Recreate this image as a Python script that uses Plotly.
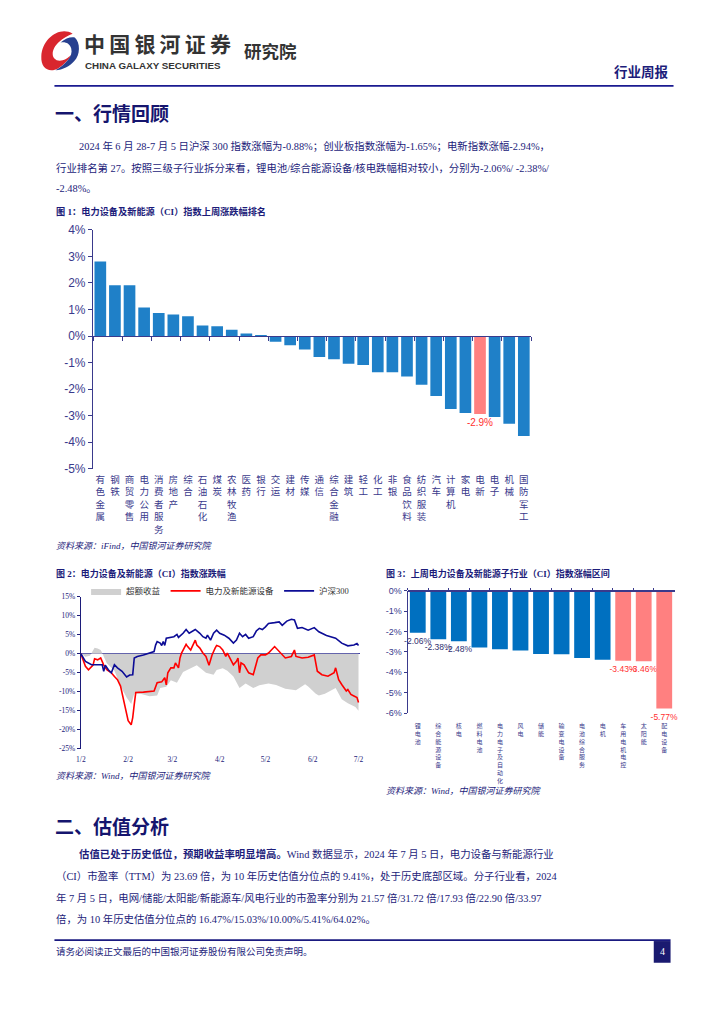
import plotly.graph_objects as go

W, H = 724, 1024


def px(x):
    return x / W


def py(y):
    return 1 - y / H


# ---------------- data ----------------
# Figure 1: industry weekly change (%)
cats1 = ['有色金属', '钢铁', '商贸零售', '电力公用', '消费者服务', '房地产', '综合', '石油石化', '煤炭',
         '农林牧渔', '医药', '银行', '交运', '建材', '传媒', '通信', '综合金融', '建筑', '轻工', '化工',
         '非银', '食品饮料', '纺织服装', '汽车', '计算机', '家电', '电新', '电子', '机械', '国防军工']
vals1 = [2.81, 1.91, 1.91, 1.07, 0.87, 0.81, 0.74, 0.40, 0.37, 0.24, 0.09, 0.01, -0.22, -0.35,
         -0.51, -0.79, -0.88, -1.05, -1.09, -1.37, -1.37, -1.53, -1.84, -2.26, -2.75, -2.90,
         -2.94, -3.05, -3.31, -3.77]
highlight1 = '电新'
ticks1 = [4, 3, 2, 1, 0, -1, -2, -3, -4, -5]
ticktext1 = ['4%', '3%', '2%', '1%', '0%', '-1%', '-2%', '-3%', '-4%', '-5%']

# Figure 3: sub-industry weekly change (%)
cats3 = ['锂电池', '综合能源设备', '核电', '燃料电池', '电力电子及自动化', '风电', '储能', '输变电设备',
         '电池综合服务', '电机', '车用电机电控', '太阳能', '配电设备']
vals3 = [-2.06, -2.38, -2.48, -2.79, -2.87, -2.93, -3.10, -3.12, -3.30, -3.38, -3.43, -3.46, -5.77]
highlight3 = ['车用电机电控', '太阳能', '配电设备']
labelled3 = ['锂电池', '综合能源设备', '核电', '车用电机电控', '太阳能', '配电设备']
ticks3 = [0, -1, -2, -3, -4, -5, -6]
ticktext3 = ['0%', '-1%', '-2%', '-3%', '-4%', '-5%', '-6%']

# Figure 2: cumulative change since 2024-01-02 (%)
hs_dates = ['2024-01-02', '2024-01-05', '2024-01-09', '2024-01-13', '2024-01-16', '2024-01-17',
            '2024-01-18', '2024-01-20', '2024-01-22', '2024-01-24', '2024-01-26', '2024-01-29',
            '2024-01-31', '2024-02-01', '2024-02-03', '2024-02-05', '2024-02-06', '2024-02-08',
            '2024-02-12', '2024-02-17', '2024-02-19', '2024-02-20', '2024-02-21', '2024-02-23',
            '2024-02-24', '2024-02-25', '2024-02-26', '2024-02-27', '2024-03-03', '2024-03-05',
            '2024-03-06', '2024-03-09', '2024-03-11', '2024-03-13', '2024-03-17', '2024-03-20',
            '2024-03-22', '2024-03-24', '2024-03-25', '2024-03-27', '2024-03-29', '2024-03-31',
            '2024-04-02', '2024-04-05', '2024-04-08', '2024-04-11', '2024-04-13', '2024-04-15',
            '2024-04-17', '2024-04-19', '2024-04-21', '2024-04-24', '2024-04-26', '2024-04-28',
            '2024-04-30', '2024-05-02', '2024-05-04', '2024-05-08', '2024-05-11', '2024-05-13',
            '2024-05-16', '2024-05-19', '2024-05-21', '2024-05-23', '2024-05-26', '2024-05-30',
            '2024-06-03', '2024-06-06', '2024-06-11', '2024-06-17', '2024-06-21', '2024-06-25',
            '2024-06-29', '2024-07-01', '2024-07-02']
hs300 = [0.0, -2.0, -2.9, -3.0, -2.9, -4.6, -3.0, -4.2, -5.0, -2.9, -3.7, -4.6, -5.5, -6.1, -5.6,
         -5.5, -1.1, -0.7, -0.3, 0.2, 0.6, 2.3, 3.2, 2.8, 2.2, 3.2, 2.2, 4.1, 4.5, 5.1, 4.3, 5.4,
         6.4, 5.4, 6.4, 5.4, 4.5, 4.1, 4.9, 3.6, 5.4, 6.2, 5.4, 4.9, 4.1, 2.8, 3.6, 5.4, 4.5, 5.1,
         4.1, 4.5, 6.0, 6.7, 6.4, 7.1, 8.0, 8.2, 8.4, 7.5, 8.6, 9.1, 8.9, 6.7, 6.9, 6.2, 6.9, 5.8,
         4.8, 4.1, 2.8, 2.1, 2.3, 2.7, 2.2]

dx_dates = ['2024-01-02', '2024-01-04', '2024-01-05', '2024-01-07', '2024-01-10', '2024-01-11',
            '2024-01-13', '2024-01-15', '2024-01-16', '2024-01-17', '2024-01-19', '2024-01-22',
            '2024-01-24', '2024-01-26', '2024-01-28', '2024-01-29', '2024-01-30', '2024-01-31',
            '2024-02-01', '2024-02-02', '2024-02-04', '2024-02-05', '2024-02-06', '2024-02-07',
            '2024-02-12', '2024-02-19', '2024-02-21', '2024-02-24', '2024-02-26', '2024-02-27',
            '2024-02-28', '2024-03-01', '2024-03-03', '2024-03-04', '2024-03-06', '2024-03-07',
            '2024-03-08', '2024-03-11', '2024-03-12', '2024-03-14', '2024-03-15', '2024-03-17',
            '2024-03-18', '2024-03-20', '2024-03-22', '2024-03-24', '2024-03-26', '2024-03-28',
            '2024-03-30', '2024-03-31', '2024-04-02', '2024-04-04', '2024-04-06', '2024-04-07',
            '2024-04-11', '2024-04-13', '2024-04-14', '2024-04-15', '2024-04-16', '2024-04-18',
            '2024-04-21', '2024-04-24', '2024-04-27', '2024-04-29', '2024-05-02', '2024-05-04',
            '2024-05-08', '2024-05-10', '2024-05-12', '2024-05-15', '2024-05-19', '2024-05-21',
            '2024-05-22', '2024-05-26', '2024-05-30', '2024-06-03', '2024-06-05', '2024-06-08',
            '2024-06-12', '2024-06-16', '2024-06-17', '2024-06-19', '2024-06-21', '2024-06-24',
            '2024-06-25', '2024-06-27', '2024-06-29', '2024-07-01', '2024-07-02']
dianxin = [0.0, -2.4, -3.3, -4.2, -3.0, -1.3, -1.6, -1.1, -2.0, -3.0, -4.2, -5.0, -6.0, -6.8,
           -8.5, -10.2, -12.4, -13.7, -15.5, -17.6, -18.7, -16.8, -13.3, -10.2, -10.1, -9.8, -7.6,
           -7.4, -6.3, -8.2, -5.0, -3.7, -3.7, -2.4, -3.7, -1.1, 0.2, 2.5, 1.9, 1.0, 1.9, 3.6, 2.3,
           1.5, 0.2, -0.7, -3.0, -0.3, 1.5, 2.2, 1.9, 1.0, -0.7, 0.2, -2.9, -2.0, -1.1, -5.0, -2.4,
           -2.9, -5.0, -5.5, -1.1, -0.3, -0.3, 0.2, 1.9, 1.0, 0.2, -1.1, -0.7, 1.0, -0.7, -1.1,
           -0.9, -0.3, -4.6, -5.5, -5.9, -5.0, -3.7, -6.8, -8.1, -9.8, -9.4, -10.7, -11.1, -11.5,
           -12.8]

ex_dates = ['2024-01-02', '2024-01-05', '2024-01-08', '2024-01-10', '2024-01-11', '2024-01-13',
            '2024-01-15', '2024-01-16', '2024-01-19', '2024-01-24', '2024-01-28', '2024-02-01',
            '2024-02-04', '2024-02-06', '2024-02-10', '2024-02-16', '2024-02-21', '2024-02-23',
            '2024-02-27', '2024-03-01', '2024-03-05', '2024-03-09', '2024-03-13', '2024-03-18',
            '2024-03-24', '2024-03-29', '2024-03-31', '2024-04-04', '2024-04-07', '2024-04-11',
            '2024-04-15', '2024-04-19', '2024-04-24', '2024-04-28', '2024-05-04', '2024-05-09',
            '2024-05-15', '2024-05-22', '2024-05-28', '2024-05-30', '2024-06-04', '2024-06-06',
            '2024-06-10', '2024-06-17', '2024-06-21', '2024-06-25', '2024-06-30', '2024-07-02']
excess = [0.0, -0.8, -0.5, 0.8, 1.6, 1.4, 1.0, 0.2, -2.5, -4.5, -8.5, -11.5, -13.2, -10.5,
          -10.5, -11.2, -11.0, -9.0, -8.7, -7.0, -7.6, -4.8, -4.0, -3.0, -5.0, -5.5, -4.3, -3.8,
          -4.5, -6.0, -9.0, -7.8, -9.0, -8.3, -7.8, -8.2, -9.2, -9.6, -8.0, -8.6, -10.5, -11.0,
          -10.5, -9.0, -12.0, -13.0, -14.0, -15.0]

month_ticks = ['2024-01-02', '2024-02-02', '2024-03-02', '2024-04-02', '2024-05-02', '2024-06-02',
               '2024-07-02']
month_labels = ['1/2', '2/2', '3/2', '4/2', '5/2', '6/2', '7/2']
ticks2 = [15, 10, 5, 0, -5, -10, -15, -20, -25]
ticktext2 = ['15%', '10%', '5%', '0%', '-5%', '-10%', '-15%', '-20%', '-25%']

# ---------------- styles ----------------
NAVY = '#1c1c7a'
AXIS = '#3a3a8c'
BLUE1 = '#1f80c8'
BLUE3 = '#0070c0'
PINK = '#ff8080'
RED_TXT = '#ff3030'
SANS = 'Noto Sans CJK SC'
BODY = 'Liberation Serif, Noto Sans CJK SC'
LAT = 'Liberation Sans, Noto Sans CJK SC'
THIN = '\u2009'


def vert(s):
    return '<br>'.join(list(s))


fig = go.Figure()

# ---- Figure 1 bars ----
fig.add_trace(go.Bar(
    x=cats1, y=vals1, xaxis='x', yaxis='y', width=0.8,
    marker=dict(color=[PINK if c == highlight1 else BLUE1 for c in cats1], line=dict(width=0)),
    text=[f'{v:.1f}%' if c == highlight1 else '' for c, v in zip(cats1, vals1)],
    textposition='outside', cliponaxis=False, constraintext='none',
    textfont=dict(color=RED_TXT, size=10, family=LAT), showlegend=False, hoverinfo='skip'))
# helper (invisible) for zero-line tick axis
fig.add_trace(go.Scatter(x=cats1, y=vals1, xaxis='x4', yaxis='y', mode='markers',
                         marker=dict(opacity=0), showlegend=False, hoverinfo='skip'))

# ---- Figure 2 lines ----
fig.add_trace(go.Scatter(x=ex_dates, y=excess, xaxis='x2', yaxis='y2', mode='lines',
                         fill='tozeroy', fillcolor='#d0d0d0', line=dict(width=0, color='#d0d0d0'),
                         name='超额收益', hoverinfo='skip'))
fig.add_trace(go.Scatter(x=dx_dates, y=dianxin, xaxis='x2', yaxis='y2', mode='lines',
                         line=dict(width=1.6, color='#ff0000'), name='电力及新能源设备',
                         hoverinfo='skip'))
fig.add_trace(go.Scatter(x=hs_dates, y=hs300, xaxis='x2', yaxis='y2', mode='lines',
                         line=dict(width=1.6, color='#0c0c96'), name='沪深300', hoverinfo='skip'))

# ---- Figure 3 bars ----
fig.add_trace(go.Bar(
    x=cats3, y=vals3, xaxis='x3', yaxis='y3', width=0.77,
    marker=dict(color=[PINK if c in highlight3 else BLUE3 for c in cats3], line=dict(width=0)),
    text=[f'{v:.2f}%' if c in labelled3 else '' for c, v in zip(cats3, vals3)],
    textposition='outside', cliponaxis=False, constraintext='none',
    textfont=dict(color=[RED_TXT if c in highlight3 else '#303070' for c in cats3], size=8.5,
                  family=LAT),
    showlegend=False, hoverinfo='skip'))
fig.add_trace(go.Scatter(x=cats3, y=vals3, xaxis='x6', yaxis='y3', mode='markers',
                         marker=dict(opacity=0), showlegend=False, hoverinfo='skip'))

# ---------------- axes ----------------
d1x = [px(89), px(532)]
d1y = [py(468), py(226)]
d2x = [px(76.7), px(359)]
d2y = [py(752), py(598)]
d3x = [px(407), px(677)]
d3y = [py(716), py(591.7)]

fig.update_layout(
    xaxis=dict(domain=d1x, anchor='y', type='category', showline=False, ticks='',
               tickvals=cats1, ticktext=[vert(c) for c in cats1], tickangle=0,
               tickfont=dict(size=9.5, color=AXIS, family=SANS), range=[-0.5, 29.5],
               ticklabelstandoff=4, showgrid=False, zeroline=False, fixedrange=True),
    xaxis4=dict(overlaying='x', anchor='free', position=py(333.4), type='category',
                range=[-0.5, 29.5], showline=True, linecolor=AXIS, linewidth=1.2,
                ticks='outside', tickson='boundaries', ticklen=4, tickcolor=AXIS,
                showticklabels=False, showgrid=False, zeroline=False),
    yaxis=dict(domain=d1y, anchor='x', range=[-5, 4], tickvals=ticks1, ticktext=ticktext1,
               showline=True, linecolor=AXIS, linewidth=1.2, ticks='outside', ticklen=4,
               tickcolor=AXIS, tickfont=dict(size=12, color=AXIS, family=LAT),
               showgrid=False, zeroline=False),
    xaxis2=dict(domain=d2x, anchor='y2', type='date', range=['2024-01-02', '2024-07-03'],
                tickvals=month_ticks, ticktext=month_labels, showline=False, ticks='',
                tickfont=dict(size=7.5, color=NAVY, family=BODY), showgrid=False,
                ticklabelstandoff=5, zeroline=False),
    yaxis2=dict(domain=d2y, anchor='x2', range=[-25, 15], tickvals=ticks2, ticktext=ticktext2,
                showline=True, linecolor=NAVY, linewidth=1.2, ticks='outside', ticklen=3,
                tickcolor=NAVY, tickfont=dict(size=7.5, color=NAVY, family=BODY),
                showgrid=False, zeroline=True, zerolinecolor='#4040a0', zerolinewidth=1.2),
    xaxis3=dict(domain=d3x, anchor='y3', type='category', showline=False, ticks='',
                tickvals=cats3, ticktext=[vert(c) for c in cats3], tickangle=0,
                tickfont=dict(size=6, color=AXIS, family=SANS), range=[-0.5, 12.5],
                ticklabelstandoff=8, showgrid=False, zeroline=False),
    xaxis6=dict(overlaying='x3', anchor='free', position=py(591.7), side='top', type='category',
                range=[-0.5, 12.5], showline=True, linecolor=AXIS, linewidth=1.6,
                ticks='outside', tickson='boundaries', ticklen=2, tickcolor=AXIS,
                showticklabels=False, showgrid=False, zeroline=False),
    yaxis3=dict(domain=d3y, anchor='x3', range=[-6, 0], tickvals=ticks3, ticktext=ticktext3,
                showline=True, linecolor=AXIS, linewidth=1, ticks='outside', ticklen=3,
                tickcolor=AXIS, tickfont=dict(size=9, color=AXIS, family=LAT),
                showgrid=False, zeroline=False),
    legend=dict(orientation='h', x=px(82), y=py(592), xanchor='left', yanchor='middle',
                font=dict(size=8.5, color='#333333', family=BODY), bgcolor='rgba(0,0,0,0)',
                itemwidth=30, traceorder='normal'),
    width=W, height=H, margin=dict(l=0, r=0, t=0, b=0), autosize=False,
    paper_bgcolor='white', plot_bgcolor='rgba(0,0,0,0)', barmode='group',
)

# ---------------- page text ----------------
ann = []


def text(x, y, s, size, color=NAVY, family=BODY, bold=False, italic=False, anchor='left'):
    ann.append(dict(x=px(x), y=py(y), xref='paper', yref='paper', text=s, showarrow=False,
                    xanchor=anchor, yanchor='middle',
                    font=dict(size=size, color=color, family=family,
                              weight='bold' if bold else 'normal',
                              style='italic' if italic else 'normal')))


# header
text(78, 37, THIN.join('中国银河证券'), 21, '#333333', SANS, bold=True)
text(79, 59.5, 'CHINA GALAXY SECURITIES', 9.8, '#333333', 'Liberation Sans', bold=True)
text(240, 44, '研究院', 17.5, '#333333', SANS, bold=True)
text(673, 65, '行业周报', 13.5, NAVY, SANS, bold=True, anchor='right')

# section 1
text(49, 107, '一、行情回顾', 19, '#15156e', SANS, bold=True)
text(73, 141, '2024 年 6 月 28-7 月 5 日沪深 300 指数涨幅为-0.88%；创业板指数涨幅为-1.65%；电新指数涨幅-2.94%，', 10.4)
text(50, 163, '行业排名第 27。按照三级子行业拆分来看，锂电池/综合能源设备/核电跌幅相对较小，分别为-2.06%/ -2.38%/', 10.4)
text(50, 184, '-2.48%。', 10.4)

text(50, 207, '图 1：电力设备及新能源（CI）指数上周涨跌幅排名', 9.2, NAVY, BODY, bold=True)
text(50, 546, '资料来源：iFind，中国银河证券研究院', 9, NAVY, BODY, italic=True)
text(50, 574, '图 2：电力设备及新能源（CI）指数涨跌幅', 9, NAVY, BODY, bold=True)
text(50, 780, '资料来源：Wind，中国银河证券研究院', 9, NAVY, BODY, italic=True)
text(383, 574, '图 3：上周电力设备及新能源子行业（CI）指数涨幅区间', 9, NAVY, BODY, bold=True)
text(383, 795, '资料来源：Wind，中国银河证券研究院', 9, NAVY, BODY, italic=True)

# section 2
text(49, 830, '二、估值分析', 19, '#15156e', SANS, bold=True)
text(73, 859, '<b>估值已处于历史低位，预期收益率明显增高。</b>Wind 数据显示，2024 年 7 月 5 日，电力设备与新能源行业', 10.4)
text(50, 881, '（CI）市盈率（TTM）为 23.69 倍，为 10 年历史估值分位点的 9.41%，处于历史底部区域。分子行业看，2024', 10.4)
text(50, 903, '年 7 月 5 日，电网/储能/太阳能/新能源车/风电行业的市盈率分别为 21.57 倍/31.72 倍/17.93 倍/22.90 倍/33.97', 10.4)
text(50, 925, '倍，为 10 年历史估值分位点的 16.47%/15.03%/10.00%/5.41%/64.02%。', 10.4)

# footer
text(50, 958, '请务必阅读正文最后的中国银河证券股份有限公司免责声明。', 9.5)
text(664.5, 958, '4', 10, 'white', BODY, anchor='center')

fig.update_layout(annotations=ann)

# ---------------- page decorations ----------------
shapes = []


def hline(x0, x1, y, color, width):
    shapes.append(dict(type='line', xref='paper', yref='paper', x0=px(x0), x1=px(x1),
                       y0=py(y), y1=py(y), line=dict(color=color, width=width)))


def path(points, color, ox=36.0, oy=21.0, sx=0.72, sy=1.0):
    # points are in a local logo frame (45..100, 16..60), scaled into the page
    parts = []
    for cmd, pts in points:
        parts.append(cmd + ' ' + ' '.join(
            f'{px(ox + (a - 45) * sx):.5f},{py(oy + (b - 16) * sy):.5f}' for a, b in pts))
    shapes.append(dict(type='path', xref='paper', yref='paper', path=' '.join(parts) + ' Z',
                       fillcolor=color, line=dict(width=0)))


hline(50, 676, 80, '#1a1a90', 1.6)
hline(50, 673, 946, '#1a1a80', 1.8)
shapes.append(dict(type='rect', xref='paper', yref='paper', x0=px(656), x1=px(673),
                   y0=py(969), y1=py(947), fillcolor='#1a1a70', line=dict(width=0)))

# logo (red swirl + blue swirl)
path([('M', [(90, 22)]), ('C', [(72, 14), (47, 27), (46, 45)]),
      ('C', [(45, 58), (58, 62), (70, 57)]), ('C', [(79, 53), (85, 48), (89, 43)]),
      ('C', [(81, 49), (70, 52), (64, 47)]), ('C', [(58, 40), (66, 29), (90, 22)])], '#d9262e')
path([('M', [(93, 26)]), ('C', [(101, 31), (101, 44), (92, 50)]),
      ('C', [(86, 55), (76, 59), (66, 59)]), ('C', [(80, 53), (91, 45), (88, 37)]),
      ('C', [(86, 32), (80, 30), (73, 31)]), ('C', [(80, 27), (87, 25), (93, 26)])], '#27408f')

fig.update_layout(shapes=shapes)

fig.write_html('out.html', config={'displayModeBar': False},
               post_script="document.body.style.margin='0';")
